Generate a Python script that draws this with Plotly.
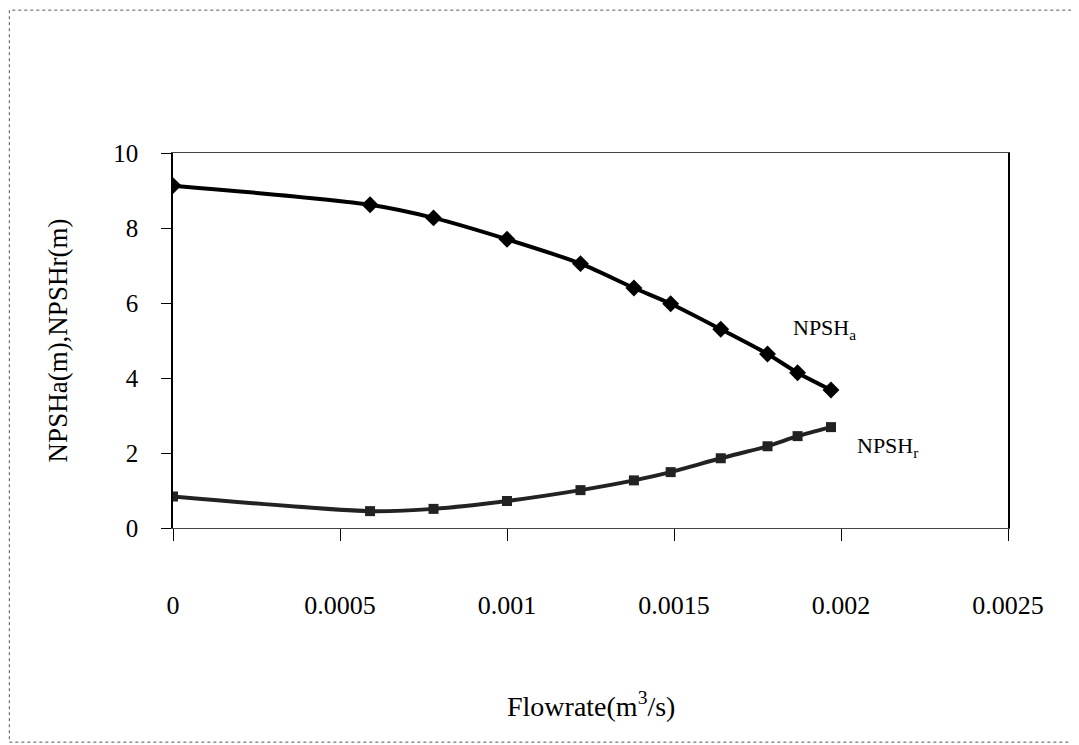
import plotly.graph_objects as go

# Data
flow_a = [0.0, 0.00059, 0.00078, 0.0010, 0.00122, 0.00138, 0.00149, 0.00164, 0.00178, 0.00187, 0.00197]
npsh_a = [9.13, 8.62, 8.27, 7.70, 7.05, 6.40, 5.98, 5.30, 4.64, 4.14, 3.68]

flow_r = [0.0, 0.00059, 0.00078, 0.0010, 0.00122, 0.00138, 0.00149, 0.00164, 0.00178, 0.00187, 0.00197]
npsh_r = [0.84, 0.45, 0.51, 0.72, 1.01, 1.27, 1.49, 1.86, 2.18, 2.45, 2.69]

x_tickvals = [0, 0.0005, 0.001, 0.0015, 0.002, 0.0025]
x_ticktext = ["0", "0.0005", "0.001", "0.0015", "0.002", "0.0025"]
y_tickvals = [0, 2, 4, 6, 8, 10]
y_ticktext = ["0", "2", "4", "6", "8", "10"]

FONT = "Liberation Serif, Times New Roman, serif"

fig = go.Figure()
fig.add_trace(go.Scatter(
    x=flow_a, y=npsh_a, mode="lines+markers", name="NPSHa",
    line=dict(color="black", width=4, shape="spline", smoothing=0.8),
    marker=dict(symbol="diamond", size=13, color="black"),
    showlegend=False,
))
fig.add_trace(go.Scatter(
    x=flow_r, y=npsh_r, mode="lines+markers", name="NPSHr",
    line=dict(color="#222222", width=4, shape="spline", smoothing=0.8),
    marker=dict(symbol="square", size=10, color="#222222"),
    showlegend=False,
))

fig.add_annotation(x=0.00195, y=5.3, xref="x", yref="y", showarrow=False,
                   text="NPSH<sub>a</sub>", font=dict(family=FONT, size=22, color="black"))
fig.add_annotation(x=0.00214, y=2.16, xref="x", yref="y", showarrow=False,
                   text="NPSH<sub>r</sub>", font=dict(family=FONT, size=22, color="black"))

# x-axis title
fig.add_annotation(x=0.5, y=-0.523, xref="paper", yref="paper", showarrow=False,
                   text="Flowrate(m<sup>3</sup>/s)", font=dict(family=FONT, size=28, color="black"))

# outer chart border
fig.add_shape(type="rect", xref="paper", yref="paper",
              x0=-0.196, x1=1.083, y0=-0.571, y1=1.381,
              line=dict(color="#555555", width=1, dash="dot"), layer="below")

fig.update_layout(
    width=1071, height=737,
    margin=dict(l=165, r=71, t=145, b=217),
    paper_bgcolor="white", plot_bgcolor="white",
    font=dict(family=FONT, size=22, color="black"),
    xaxis=dict(
        range=[0, 0.0025], tickvals=x_tickvals, ticktext=x_ticktext,
        showgrid=False, zeroline=False,
        showline=True, linecolor="#444444", linewidth=1, mirror=True,
        ticks="outside", ticklen=12, tickcolor="black",
        ticklabelstandoff=42,
        tickfont=dict(family=FONT, size=26, color="black"),
    ),
    yaxis=dict(
        range=[0, 10], tickvals=y_tickvals, ticktext=y_ticktext,
        showgrid=False, zeroline=False,
        showline=True, linecolor="black", linewidth=1.5, mirror=True,
        ticks="outside", ticklen=10, tickcolor="black",
        ticklabelstandoff=18,
        tickfont=dict(family=FONT, size=25, color="black"),
        title=dict(text="NPSHa(m),NPSHr(m)", font=dict(family=FONT, size=27, color="black"),
                   standoff=38),
    ),
)

fig.write_html("out.html")
